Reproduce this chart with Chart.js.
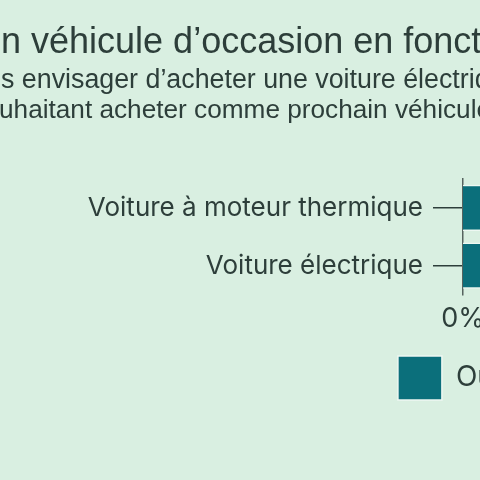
<!DOCTYPE html>
<html>
<head>
<meta charset="utf-8">
<script src="https://cdn.jsdelivr.net/npm/chart.js@4.4.1/dist/chart.umd.min.js"></script>
<style>
  html, body { margin: 0; padding: 0; background: #d9efe1; }
  #wrap { position: relative; width: 480px; height: 480px; overflow: hidden; }
  #chart { position: absolute; left: 0; top: 0; }
</style>
</head>
<body>
<div id="wrap"><canvas id="chart" width="1062" height="480"></canvas></div>
<script>
// data
const categories = ['Voiture à moteur thermique', 'Voiture électrique'];
const seriesNames = ['Oui', 'Non'];
const ouiValues = [38, 72];
const nonValues = [62, 28];

// header text (only part of it falls inside the frame)
const titleText = 'Achat d’un véhicule d’occasion en fonction du type de motorisation';
const titleCut = 'Achat d’u';
const subLine1 = 'Pourriez-vous envisager d’acheter une voiture électrique d’occasion ?';
const subCut1 = 'Pourriez-vou';
const subLine2 = 'Personnes souhaitant acheter comme prochain véhicule une voiture d’occasion';
const subCut2 = 'Personnes so';

const ink = '#2d3e3a';
const teal = '#0b6f7b';
const labelFont = 'Inter';

// draws a line so that the "cut" prefix ends at x
function cutText(ctx, text, cut, x, y) {
  ctx.fillText(text, x - ctx.measureText(cut).width, y);
}

const header = {
  id: 'header',
  afterDraw(chart) {
    const ctx = chart.ctx;
    ctx.save();
    ctx.fillStyle = ink;
    ctx.textBaseline = 'alphabetic';
    ctx.textAlign = 'left';
    ctx.font = '36px "Liberation Sans"';
    cutText(ctx, titleText, titleCut, 1, 53);
    ctx.font = '26.8px "Liberation Sans"';
    cutText(ctx, subLine1, subCut1, 1, 88);
    ctx.font = '26.2px "Liberation Sans"';
    cutText(ctx, subLine2, subCut2, -1, 118);
    ctx.restore();
  }
};

new Chart(document.getElementById('chart'), {
  type: 'bar',
  data: {
    labels: categories,
    datasets: [
      { label: seriesNames[0], data: ouiValues, backgroundColor: teal, borderColor: '#eef8f2', borderWidth: 1.5 },
      { label: seriesNames[1], data: nonValues, backgroundColor: '#e3a33b', borderColor: '#eef8f2', borderWidth: 1.5 }
    ]
  },
  options: {
    responsive: false,
    animation: false,
    indexAxis: 'y',
    categoryPercentage: 0.8,
    barPercentage: 1,
    layout: { padding: { top: 179, left: 0, right: 30, bottom: 70 } },
    scales: {
      x: {
        stacked: true,
        min: 0,
        max: 100,
        grid: { display: false },
        border: { display: false },
        ticks: { stepSize: 20, padding: 0, color: ink, font: { family: labelFont, size: 27 }, callback: v => v + '%' }
      },
      y: {
        stacked: true,
        afterFit: s => { s.width = 463; },
        grid: { offset: false, drawOnChartArea: false, tickLength: 30, color: ink, lineWidth: 1.5 },
        border: { display: true, color: '#56635f', width: 1.5 },
        ticks: { color: ink, padding: 10, font: { family: labelFont, size: 26 } }
      }
    },
    plugins: {
      legend: {
        position: 'bottom',
        labels: { boxWidth: 44, boxHeight: 44, padding: 21, color: ink, font: { family: labelFont, size: 28 } }
      },
      title: { display: false },
      tooltip: { enabled: false }
    }
  },
  plugins: [header]
});
</script>
</body>
</html>
